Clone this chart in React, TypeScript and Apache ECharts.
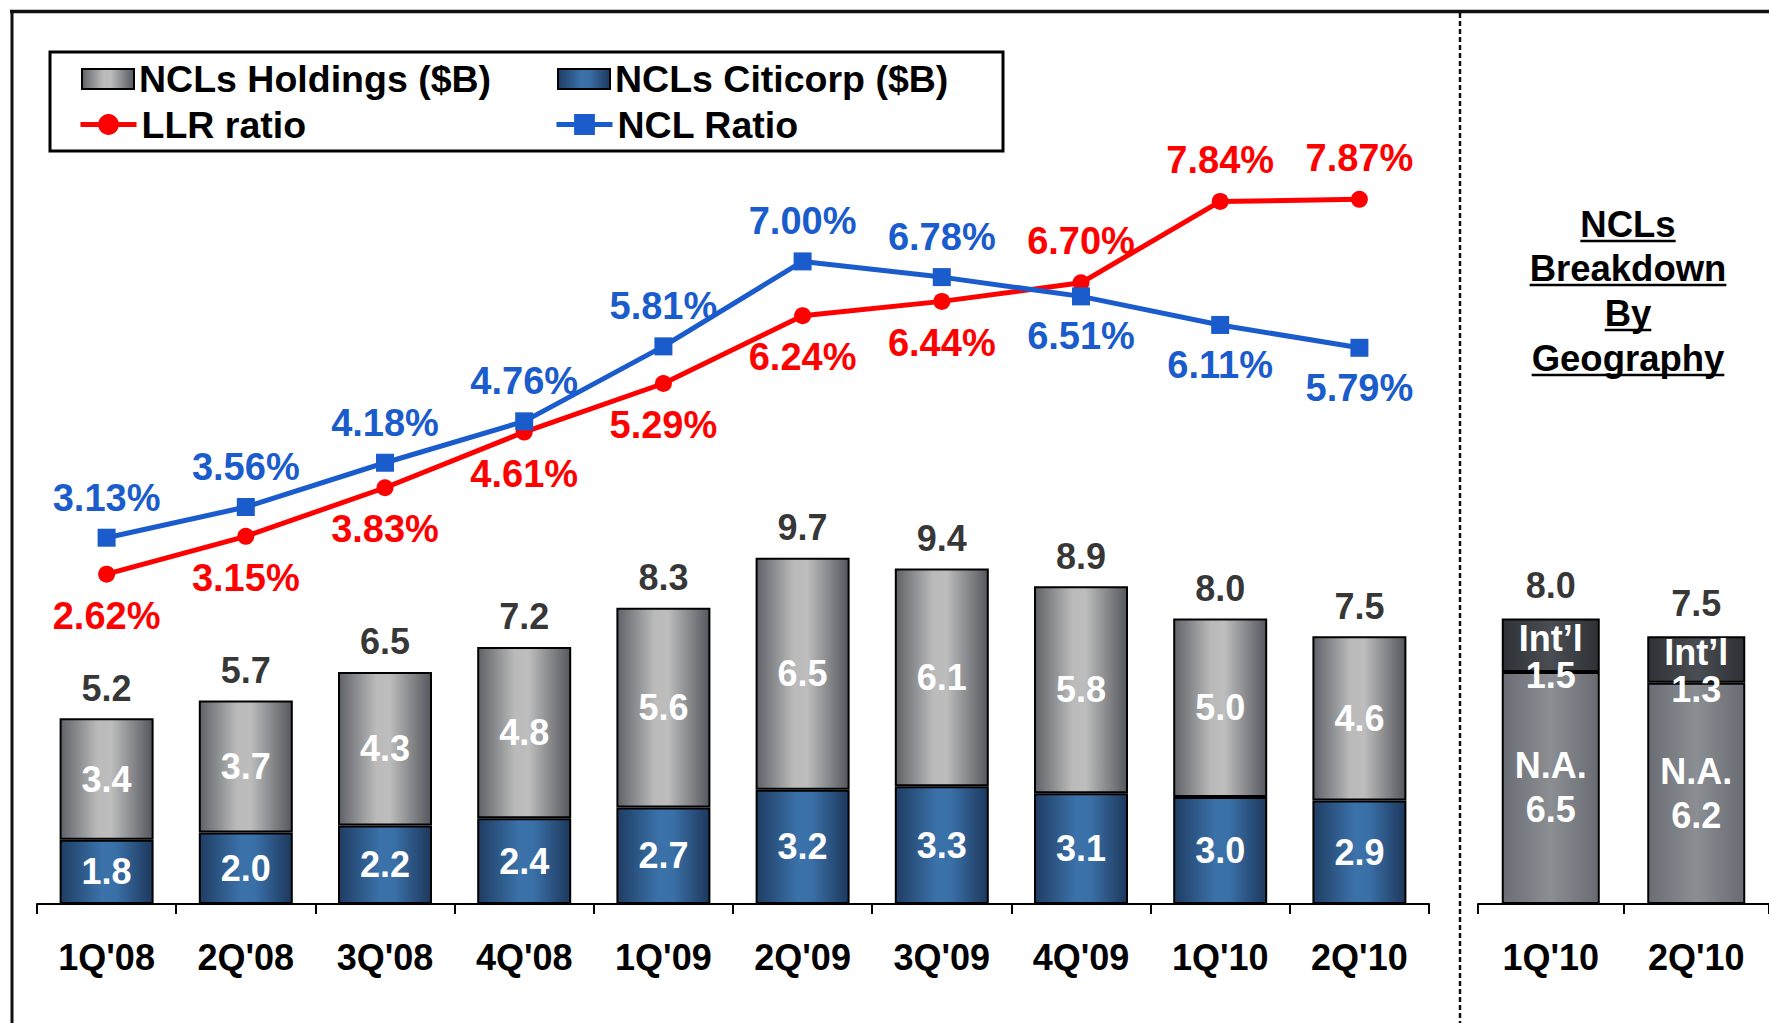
import React, { useEffect, useRef } from "react";
import * as echarts from "echarts";

const categories = ["1Q'08", "2Q'08", "3Q'08", "4Q'08", "1Q'09", "2Q'09", "3Q'09", "4Q'09", "1Q'10", "2Q'10"];
const citicorp = [1.8, 2.0, 2.2, 2.4, 2.7, 3.2, 3.3, 3.1, 3.0, 2.9];
const holdings = [3.4, 3.7, 4.3, 4.8, 5.6, 6.5, 6.1, 5.8, 5.0, 4.6];
const totals = [5.2, 5.7, 6.5, 7.2, 8.3, 9.7, 9.4, 8.9, 8.0, 7.5];
const llrRatio = [2.62, 3.15, 3.83, 4.61, 5.29, 6.24, 6.44, 6.70, 7.84, 7.87];
const nclRatio = [3.13, 3.56, 4.18, 4.76, 5.81, 7.00, 6.78, 6.51, 6.11, 5.79];

const geoCategories = ["1Q'10", "2Q'10"];
const northAmerica = [6.5, 6.2];
const international = [1.5, 1.3];
const geoTotals = [8.0, 7.5];

const titleLines = ["NCLs", "Breakdown", "By", "Geography"];

// label placement (indices whose label sits on the other side)
const llrLabelAbove = [7, 8, 9];
const nclLabelBelow = [7, 8, 9];

const FONT = "'Liberation Sans', Arial, sans-serif";
const RED = "#FF0000";
const BLUE = "#1A5CCC";

const grad = (stops: [number, string][]) =>
  new echarts.graphic.LinearGradient(0, 0, 1, 0, stops.map(([offset, color]) => ({ offset, color })));

export default function App() {
  const ref = useRef<HTMLDivElement>(null);

  useEffect(() => {
    if (!ref.current) return;
    const chart = echarts.init(ref.current, null, { renderer: "svg" });

    const canvas = document.createElement("canvas");
    const ctx = canvas.getContext("2d")!;
    ctx.font = `bold 36.5px ${FONT}`;

    const gridTop = 118.6;
    const gridHeight = 785.4;

    const greyGrad = grad([[0, "#5f6268"], [0.4, "#bababa"], [0.55, "#bdbdbd"], [1, "#55585e"]]);
    const blueGrad = grad([[0, "#1f3d63"], [0.45, "#3b72aa"], [0.6, "#3a70a8"], [1, "#1d385c"]]);
    const naGrad = grad([[0, "#6a6d73"], [0.5, "#8b8e93"], [1, "#686b71"]]);
    const intlGrad = grad([[0, "#2e3136"], [0.5, "#4a4d52"], [1, "#2d3035"]]);

    const labelBase = { fontFamily: FONT, fontWeight: "bold" as const, fontSize: 36, lineHeight: 36 };
    const lineLabelBase = { ...labelBase, fontSize: 38, lineHeight: 38 };

    const titleX = 1628;
    const titleY = [224, 268, 313, 358];
    const graphics: any[] = [
      { type: "line", shape: { x1: 10, y1: 11.5, x2: 1769, y2: 11.5 }, style: { stroke: "#111", lineWidth: 3.5 } },
      { type: "line", shape: { x1: 12, y1: 10, x2: 12, y2: 1023 }, style: { stroke: "#111", lineWidth: 3 } },
      { type: "line", shape: { x1: 1460, y1: 13, x2: 1460, y2: 1023 }, style: { stroke: "#111", lineWidth: 2.5, lineDash: [5, 3] } },
      { type: "rect", shape: { x: 50, y: 52, width: 953, height: 99 }, style: { fill: "none", stroke: "#000", lineWidth: 3 } },
    ];
    titleLines.forEach((t, i) => {
      const w = ctx.measureText(t).width;
      graphics.push({
        type: "text",
        x: titleX,
        y: titleY[i],
        style: { text: t, fill: "#000", font: `bold 36.5px ${FONT}`, textAlign: "center", textVerticalAlign: "middle" },
      });
      graphics.push({
        type: "line",
        shape: { x1: titleX - w / 2, y1: titleY[i] + 17, x2: titleX + w / 2, y2: titleY[i] + 17 },
        style: { stroke: "#000", lineWidth: 2.5 },
      });
    });

    const legendText = { ...labelBase, fontSize: 37.5, lineHeight: 37, color: "#000" };
    const mkLegend = (name: string, left: number, top: number, w: number, h: number, icon?: string) => ({
      data: [icon ? { name, icon } : name],
      left,
      top,
      padding: 0,
      itemWidth: w,
      itemHeight: h,
      textStyle: legendText,
      lineStyle: { width: 5 },
      selectedMode: false,
    });

    const xAxisCommon = {
      type: "category" as const,
      axisLine: { lineStyle: { color: "#000", width: 2 } },
      axisTick: { show: true, length: 10, lineStyle: { color: "#000", width: 2 } },
      axisLabel: { ...labelBase, color: "#000", margin: 35 },
      splitLine: { show: false },
    };

    const option: any = {
      animation: false,
      backgroundColor: "#fff",
      graphic: graphics,
      legend: [
        mkLegend("NCLs Holdings ($B)", 81, 60, 52, 20, "rect"),
        mkLegend("NCLs Citicorp ($B)", 557, 60, 52, 20, "rect"),
        { ...mkLegend("LLR ratio", 78, 104, 56, 26), textStyle: { ...legendText, padding: [4, 0, 0, 0] } },
        { ...mkLegend("NCL Ratio", 554, 104, 56, 26), textStyle: { ...legendText, padding: [4, 0, 0, 0] } },
      ],
      grid: [
        { left: 37, width: 1392, top: gridTop, height: gridHeight },
        { left: 1478, width: 300, top: gridTop, height: gridHeight },
      ],
      xAxis: [
        { ...xAxisCommon, gridIndex: 0, data: categories },
        { ...xAxisCommon, gridIndex: 1, data: geoCategories },
      ],
      yAxis: [
        { type: "value", gridIndex: 0, min: 0, max: 22, show: false },
        { type: "value", gridIndex: 0, min: -2, max: 9, show: false },
        { type: "value", gridIndex: 1, min: 0, max: 22, show: false },
      ],
      series: [
        {
          name: "NCLs Citicorp ($B)",
          type: "bar",
          stack: "main",
          xAxisIndex: 0,
          yAxisIndex: 0,
          barWidth: 94,
          data: citicorp,
          itemStyle: { color: blueGrad, borderColor: "#000", borderWidth: 2 },
          label: { show: true, position: "inside", color: "#fff", ...labelBase, formatter: (p: any) => p.value.toFixed(1) },
          z: 2,
        },
        {
          name: "NCLs Holdings ($B)",
          type: "bar",
          stack: "main",
          xAxisIndex: 0,
          yAxisIndex: 0,
          barWidth: 94,
          data: holdings,
          itemStyle: { color: greyGrad, borderColor: "#000", borderWidth: 2 },
          label: { show: true, position: "inside", color: "#fff", ...labelBase, formatter: (p: any) => p.value.toFixed(1) },
          z: 2,
        },
        {
          name: "totals",
          type: "scatter",
          xAxisIndex: 0,
          yAxisIndex: 0,
          symbolSize: 0,
          data: totals,
          itemStyle: { color: "rgba(0,0,0,0)" },
          label: { show: true, position: "top", distance: 12, color: "#000", ...labelBase, formatter: (p: any) => p.value.toFixed(1) },
          z: 4,
        },
        {
          name: "LLR ratio",
          type: "line",
          xAxisIndex: 0,
          yAxisIndex: 1,
          symbol: "circle",
          symbolSize: 17,
          lineStyle: { color: RED, width: 5 },
          itemStyle: { color: RED },
          data: llrRatio.map((v, i) => ({
            value: v,
            label: { position: llrLabelAbove.includes(i) ? "top" : "bottom" },
          })),
          label: { show: true, distance: 14, color: RED, ...lineLabelBase, formatter: (p: any) => p.value.toFixed(2) + "%" },
          z: 5,
        },
        {
          name: "NCL Ratio",
          type: "line",
          xAxisIndex: 0,
          yAxisIndex: 1,
          symbol: "rect",
          symbolSize: 18,
          lineStyle: { color: BLUE, width: 5 },
          itemStyle: { color: BLUE },
          data: nclRatio.map((v, i) => ({
            value: v,
            label: { position: nclLabelBelow.includes(i) ? "bottom" : "top" },
          })),
          label: { show: true, distance: 12, color: BLUE, ...lineLabelBase, formatter: (p: any) => p.value.toFixed(2) + "%" },
          z: 5,
        },
        {
          name: "N.A.",
          type: "bar",
          stack: "geo",
          xAxisIndex: 1,
          yAxisIndex: 2,
          barWidth: 98,
          data: northAmerica,
          itemStyle: { color: naGrad, borderColor: "#000", borderWidth: 2 },
          label: {
            show: true,
            position: "inside",
            color: "#fff",
            ...labelBase,
            lineHeight: 44,
            formatter: (p: any) => "N.A.\n" + p.value.toFixed(1),
          },
          z: 2,
        },
        {
          name: "Int’l",
          type: "bar",
          stack: "geo",
          xAxisIndex: 1,
          yAxisIndex: 2,
          barWidth: 98,
          data: international,
          itemStyle: { color: intlGrad, borderColor: "#000", borderWidth: 2 },
          label: {
            show: true,
            position: "inside",
            offset: [0, 12],
            color: "#fff",
            ...labelBase,
            lineHeight: 37,
            formatter: (p: any) => "Int’l\n" + p.value.toFixed(1),
          },
          z: 3,
        },
        {
          name: "geoTotals",
          type: "scatter",
          xAxisIndex: 1,
          yAxisIndex: 2,
          symbolSize: 0,
          data: geoTotals,
          itemStyle: { color: "rgba(0,0,0,0)" },
          label: { show: true, position: "top", distance: 15, color: "#000", ...labelBase, formatter: (p: any) => p.value.toFixed(1) },
          z: 4,
        },
      ],
    };

    chart.setOption(option);
    return () => chart.dispose();
  }, []);

  return <div ref={ref} style={{ position: "absolute", left: 0, top: 0, width: 1769, height: 1023 }} />;
}
